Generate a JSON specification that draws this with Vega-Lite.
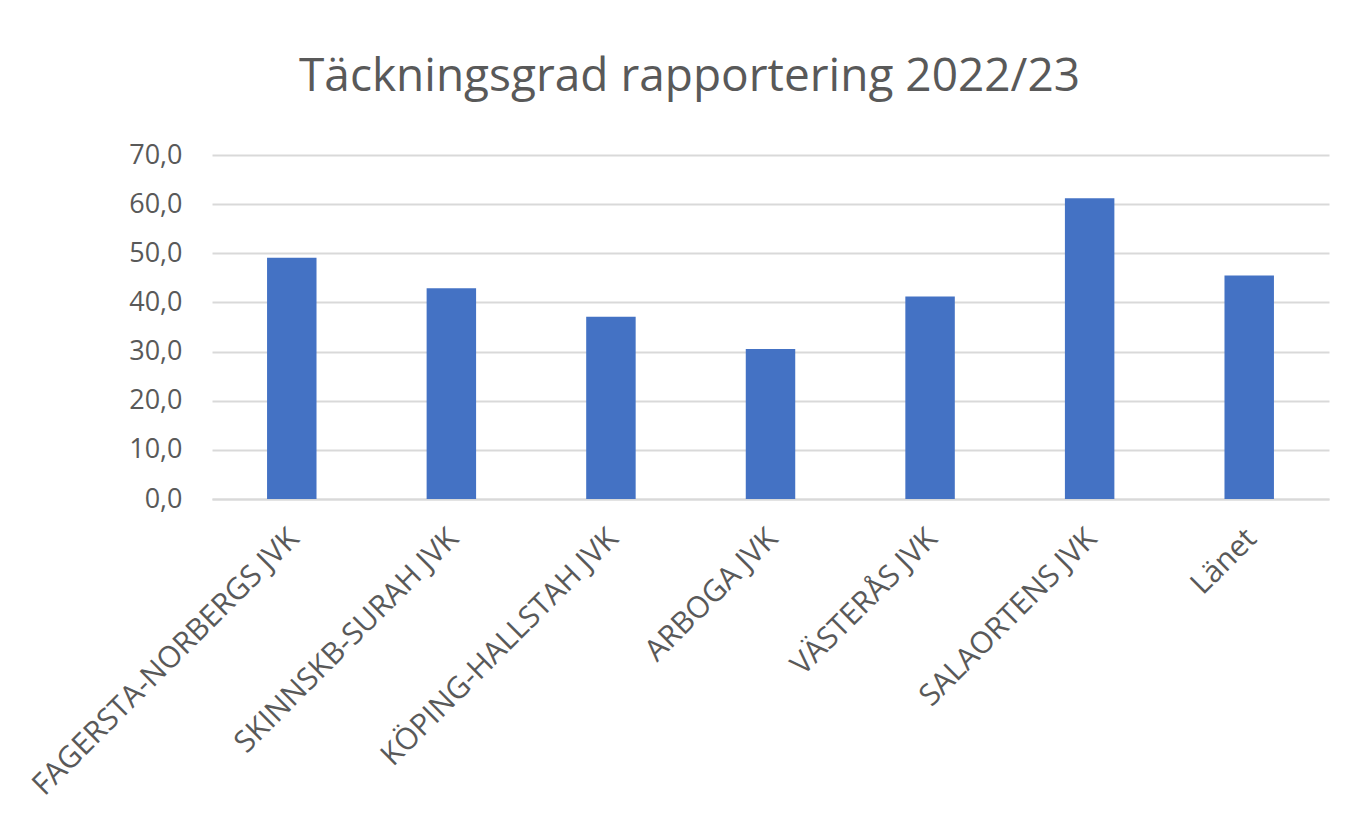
{
  "$schema": "https://vega.github.io/schema/vega-lite/v6.json",
  "autosize": {"type": "none"},
  "width": 1117,
  "height": 344,
  "padding": {"left": 212, "top": 155, "right": 33, "bottom": 324},
  "background": "white",
  "title": {
    "text": "Täckningsgrad rapportering 2022/23",
    "font": "Open Sans",
    "fontSize": 46,
    "fontWeight": "normal",
    "color": "#595959",
    "anchor": "middle",
    "dx": -81,
    "offset": 40
  },
  "data": {
    "values": [
      {"jvk": "FAGERSTA-NORBERGS JVK", "value": 49.1},
      {"jvk": "SKINNSKB-SURAH JVK", "value": 42.9},
      {"jvk": "KÖPING-HALLSTAH JVK", "value": 37.1},
      {"jvk": "ARBOGA JVK", "value": 30.5},
      {"jvk": "VÄSTERÅS JVK", "value": 41.2},
      {"jvk": "SALAORTENS JVK", "value": 61.2},
      {"jvk": "Länet", "value": 45.5}
    ]
  },
  "mark": {"type": "bar", "color": "#4472C4"},
  "encoding": {
    "x": {
      "field": "jvk",
      "type": "nominal",
      "sort": null,
      "title": null,
      "scale": {"paddingInner": 0.69, "paddingOuter": 0.345},
      "axis": {
        "labelAngle": -45,
        "labelFont": "Open Sans",
        "labelFontSize": 30,
        "labelColor": "#595959",
        "labelPadding": 24,
        "labelOffset": -8,
        "ticks": false,
        "domainColor": "#d9d9d9",
        "domainWidth": 2,
        "labelLimit": 700
      }
    },
    "y": {
      "field": "value",
      "type": "quantitative",
      "title": null,
      "scale": {"domain": [0, 70]},
      "axis": {
        "values": [0, 10, 20, 30, 40, 50, 60, 70],
        "format": ".1f",
        "labelFont": "Open Sans",
        "labelFontSize": 27,
        "labelColor": "#595959",
        "labelPadding": 30,
        "ticks": false,
        "domain": false,
        "gridColor": "#d9d9d9",
        "gridWidth": 2
      }
    }
  },
  "config": {
    "view": {"stroke": null},
    "locale": {
      "number": {"decimal": ",", "thousands": " ", "grouping": [3], "currency": ["", " kr"]}
    }
  }
}
